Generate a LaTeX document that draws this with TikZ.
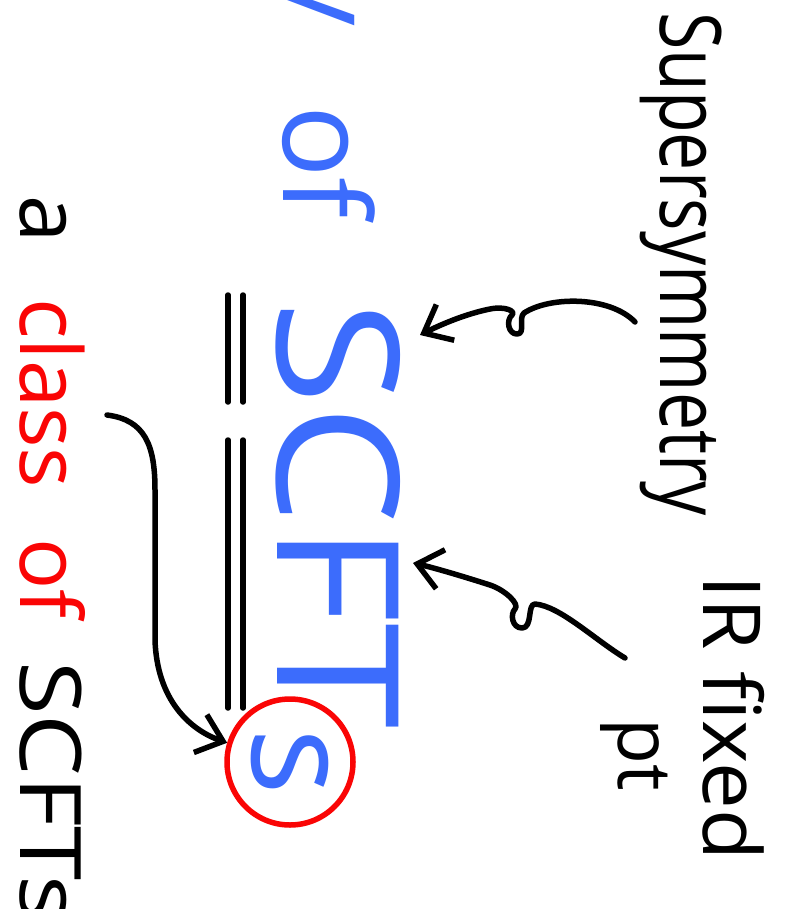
\documentclass[tikz,border=0pt]{standalone}
\usepackage{fontspec}
\setmainfont{Open Sans}
\usepackage{graphicx}
\usetikzlibrary{arrows.meta}
\definecolor{inkBlue}{RGB}{60,108,252}
\definecolor{inkRed}{RGB}{250,5,5}
\newcommand{\inksize}[1]{\fontsize{#1}{#1}\selectfont}

\begin{document}
\begin{tikzpicture}[x=1pt, y=-1pt,
    ink/.style={rotate=-90, anchor=base west, inner sep=0pt},
    arrowink/.style={-{Straight Barb[length=24pt, width=40pt]}, line width=5.5pt, line cap=round, line join=round},
    eqline/.style={line width=5.5pt, line cap=round}]
  \fill[white] (0,0) rectangle (784,909);
  \clip (0,0) rectangle (784,909);

  % labels on the right
  \node[ink] (susy) at (660,12) {\inksize{85pt}\scalebox{0.8}[1]{Supersymmetry}};
  \node[ink] (ir) at (703,575) {\inksize{80pt}\scalebox{1.04}[1]{IR fixed}};
  \node[ink] (pt) at (618,718) {\inksize{75pt}pt};

  % middle line
  \node[ink, anchor=base east, text=inkBlue] (fam) at (290,26) {\inksize{120pt}y};
  \node[ink, text=inkBlue] (of) at (283,105) {\inksize{120pt}of};
  \node[ink, text=inkBlue] (scft) at (277,300) {\inksize{170pt}\scalebox{1.12}[1]{SCFT}};
  \node[circle, draw=inkRed, line width=5.5pt, minimum size=126pt, inner sep=0pt, text=inkBlue] (s) at (290,762) {\rotatebox{-90}{\inksize{140pt}s}};

  % equals sign
  \foreach \x in {228,243} {
    \draw[eqline] (\x,295) -- (\x,402);
    \draw[eqline] (\x,440) -- (\x,708);
  }

  % bottom line
  \node[ink] (a) at (20,195) {\inksize{85pt}a};
  \node[ink, text=inkRed] (cls) at (20,298) {\inksize{85pt}class\hspace{50pt}of};
  \node[ink] (scfts) at (20,661) {\inksize{85pt}\scalebox{1.15}[1]{SCFTs}};

  % arrows
  \coordinate (susy tail) at (635,322);
  \coordinate (susy head) at (420,335);
  \coordinate (ir tail) at (625,658);
  \coordinate (ir head) at (413,563);
  \coordinate (cls tail) at (107,415);

  \draw[arrowink] (susy tail) .. controls (610,296) and (550,296) .. (524,313)
    .. controls (518,318) and (526,334) .. (517,334)
    .. controls (508,334) and (506,320) .. (512,315)
    .. controls (516,311) and (505,306) .. (490,309)
    .. controls (465,314) and (440,325) .. (susy head);
  \draw[arrowink] (ir tail) .. controls (595,640) and (560,606) .. (535,604)
    .. controls (527,604) and (533,628) .. (522,628)
    .. controls (512,628) and (510,614) .. (515,609)
    .. controls (520,604) and (505,590) .. (490,585)
    .. controls (465,577) and (435,568) .. (ir head);
  \draw[arrowink] (cls tail) .. controls (145,420) and (155,445) .. (155,490)
    -- (155,640) .. controls (157,700) and (190,730) .. (s.163);
\end{tikzpicture}
\end{document}
